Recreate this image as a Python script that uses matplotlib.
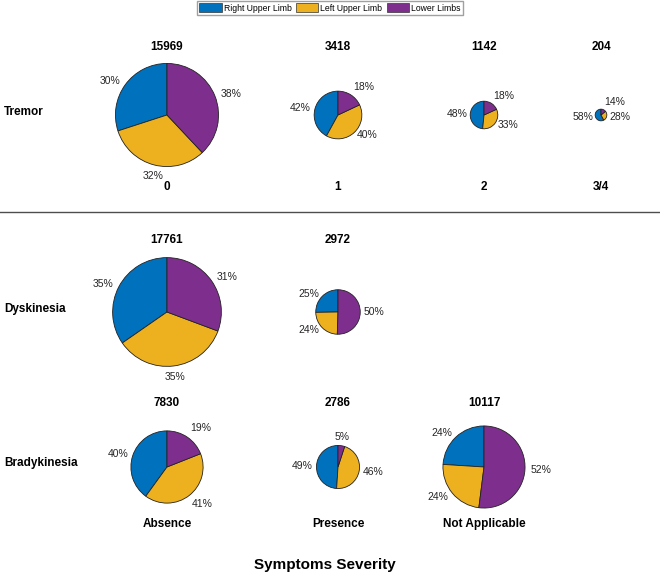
import numpy as np
import matplotlib
matplotlib.use('Agg')
import matplotlib.pyplot as plt
from matplotlib.patches import Patch

plt.rcParams['font.family'] = ['Liberation Sans', 'DejaVu Sans']

limbs = ['Right Upper Limb', 'Left Upper Limb', 'Lower Limbs']
colors = ['#0072BD', '#EDB120', '#7E2F8E']

# Tremor
tremor_levels = ['0', '1', '2', '3/4']
tremor_n = [15969, 3418, 1142, 204]
tremor_pct = [[30, 32, 38], [42, 40, 18], [48, 33, 18], [58, 28, 14]]

# Dyskinesia
dysk_n = [17761, 2972]
dysk_pct = [[35, 35, 31], [25, 24, 50]]

# Bradykinesia
brady_levels = ['Absence', 'Presence', 'Not Applicable']
brady_n = [7830, 2786, 10117]
brady_pct = [[40, 41, 19], [49, 46, 5], [24, 24, 52]]

W, H = 660, 575
fig = plt.figure(figsize=(W / 100, H / 100), dpi=100)
ax = fig.add_axes([0, 0, 1, 1])

col_x = [167, 338, 484, 601]
k = 0.408  # pixel radius per sqrt(count)


def draw_pie(cx, cy_top, n, pct, title):
    cy = H - cy_top
    r = k * np.sqrt(n)
    ax.pie(pct, colors=colors, startangle=90, counterclock=True,
           center=(cx, cy), radius=r,
           wedgeprops=dict(edgecolor='#222222', linewidth=0.6))
    fr = np.array(pct, dtype=float) / sum(pct)
    start = 90.0
    for f, p in zip(fr, pct):
        mid = np.deg2rad(start + f * 180.0)
        start += f * 360.0
        c, s = np.cos(mid), np.sin(mid)
        d = r * 1.08 + 2
        ha = 'left' if c > 0.3 else ('right' if c < -0.3 else 'center')
        va = 'bottom' if s > 0.75 else ('top' if s < -0.75 else 'center')
        ax.text(cx + d * c, cy + d * s, '%d%%' % p, ha=ha, va=va,
                fontsize=7.5, color='#262626')
    ax.text(cx, H - title[1], title[0], ha='center', va='center',
            fontsize=8.5, fontweight='bold')


# Tremor row
for i in range(len(tremor_n)):
    draw_pie(col_x[i], 115, tremor_n[i], tremor_pct[i], (str(tremor_n[i]), 47))
    ax.text(col_x[i], H - 187, tremor_levels[i], ha='center', va='center',
            fontsize=8.5, fontweight='bold')

# Dyskinesia row
for i in range(len(dysk_n)):
    draw_pie(col_x[i], 312, dysk_n[i], dysk_pct[i], (str(dysk_n[i]), 240))

# Bradykinesia row
for i in range(len(brady_n)):
    draw_pie(col_x[i], 467, brady_n[i], brady_pct[i], (str(brady_n[i]), 403))
    ax.text(col_x[i], H - 524, brady_levels[i], ha='center', va='center',
            fontsize=8.5, fontweight='bold')

# row labels
for lab, y in zip(['Tremor', 'Dyskinesia', 'Bradykinesia'], [112, 309, 463]):
    ax.text(4, H - y, lab, ha='left', va='center', fontsize=8.5, fontweight='bold')

# separator line
ax.plot([0, W], [H - 212, H - 212], color='#4d4d4d', lw=1)

ax.text(325, H - 565, 'Symptoms Severity', ha='center', va='center',
        fontsize=11, fontweight='bold')

ax.set_xlim(0, W)
ax.set_ylim(0, H)
ax.set_aspect('equal')
ax.axis('off')

handles = [Patch(facecolor=c, edgecolor='#333333', linewidth=0.5) for c in colors]
fig.legend(handles, limbs, loc='upper center', bbox_to_anchor=(0.5, 1.0),
           ncol=3, fontsize=6.2, frameon=True, fancybox=False, edgecolor='#888888',
           borderpad=0.3, handlelength=2.6, handleheight=1.1, handletextpad=0.25,
           columnspacing=0.5, borderaxespad=0.1)

fig.savefig('out.png', dpi=100)
